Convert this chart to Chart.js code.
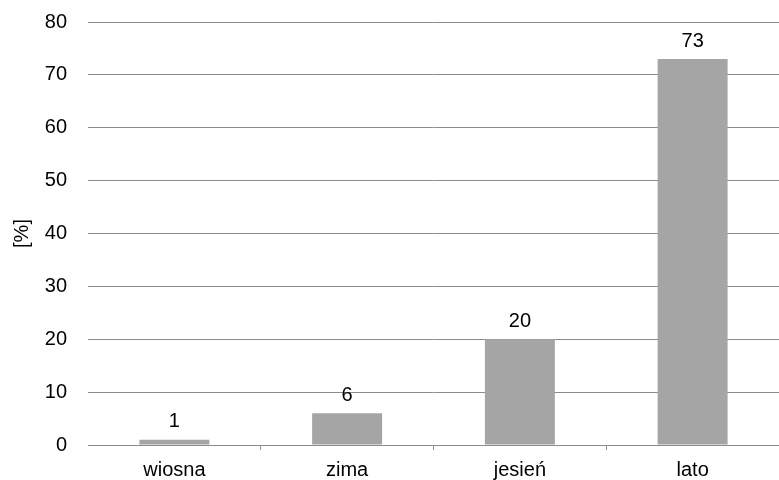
<!DOCTYPE html>
<html>
<head>
<meta charset="utf-8">
<script src="https://cdn.jsdelivr.net/npm/chart.js@4"></script>
<style>
  html, body { margin: 0; padding: 0; background: #fff; }
  #wrap { width: 779px; height: 480px; }
</style>
</head>
<body>
<div id="wrap"><canvas id="wykres" width="779" height="480"></canvas></div>
<script>
const kategorie = ["wiosna", "zima", "jesień", "lato"];
const wartosci = [1, 6, 20, 73];
const osY = [0, 10, 20, 30, 40, 50, 60, 70, 80];

const kolorSlupka = "#a5a5a5";
const kolorSiatki = "#8c8c8c";
const czcionka = { family: "'Liberation Sans', Arial, sans-serif", size: 20 };

// etykiety z wartosciami nad slupkami
const etykiety = {
    id: "etykiety",
    afterDatasetsDraw(chart) {
        const ctx = chart.ctx;
        const meta = chart.getDatasetMeta(0);
        ctx.save();
        ctx.font = czcionka.size + "px " + czcionka.family;
        ctx.fillStyle = "#000";
        ctx.textAlign = "center";
        ctx.textBaseline = "bottom";
        meta.data.forEach((bar, i) => {
            ctx.fillText(String(wartosci[i]), bar.x, bar.y - 8);
        });
        ctx.restore();
    },
};

new Chart(document.getElementById("wykres"), {
    type: "bar",
    data: {
        labels: kategorie,
        datasets: [
            {
                data: wartosci,
                backgroundColor: kolorSlupka,
                borderWidth: 0,
                barPercentage: 0.405,
                categoryPercentage: 1,
            },
        ],
    },
    options: {
        responsive: false,
        animation: false,
        layout: { padding: { top: 1, right: 0, bottom: 0, left: 0 } },
        plugins: {
            legend: { display: false },
            tooltip: { enabled: false },
        },
        scales: {
            x: {
                afterFit: (s) => { s.height = 35; },
                border: { color: kolorSiatki },
                grid: {
                    offset: true,
                    drawOnChartArea: false,
                    tickLength: 5,
                    color: (c) =>
                        c.index === 0 || c.index === kategorie.length ? "transparent" : kolorSiatki,
                },
                ticks: { color: "#000", font: czcionka, padding: 8 },
            },
            y: {
                min: 0,
                max: 80,
                afterFit: (s) => { s.width = 88; },
                afterBuildTicks: (s) => { s.ticks = osY.map((v) => ({ value: v })); },
                border: { display: false },
                grid: { color: kolorSiatki, tickColor: "transparent", tickLength: 11 },
                ticks: { color: "#000", font: czcionka, padding: 10 },
                title: {
                    display: true,
                    text: "[%]",
                    color: "#000",
                    font: czcionka,
                    padding: { top: 10, bottom: 0 },
                },
            },
        },
    },
    plugins: [etykiety],
});
</script>
</body>
</html>
